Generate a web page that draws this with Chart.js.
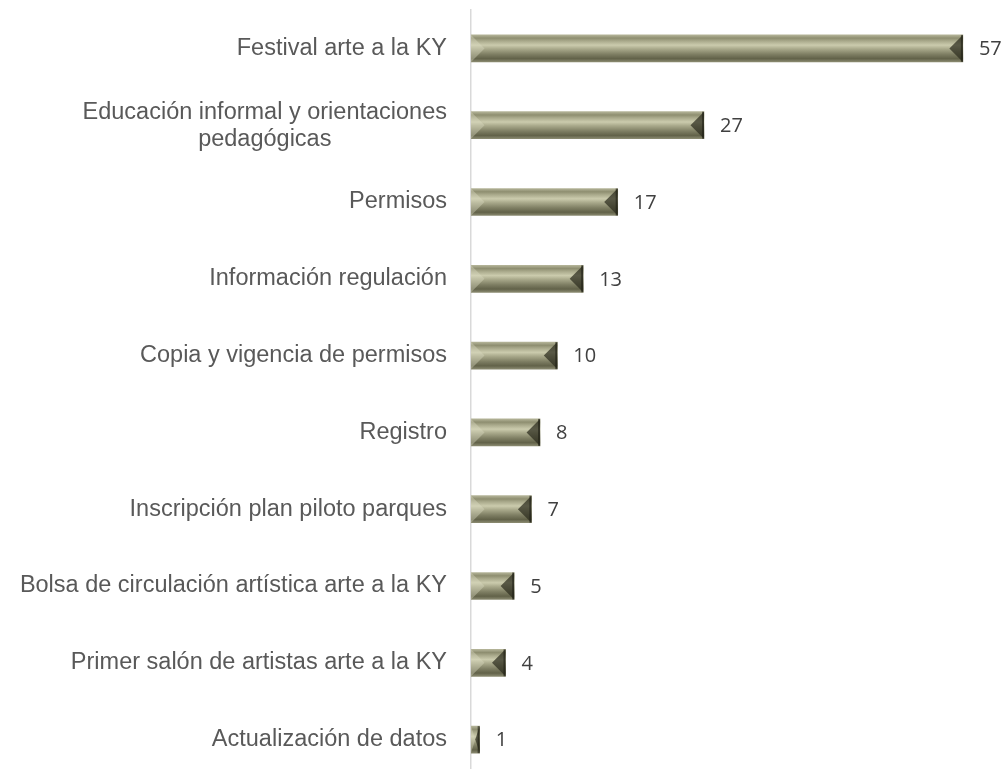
<!DOCTYPE html>
<html>
<head>
<meta charset="utf-8">
<script src="https://cdn.jsdelivr.net/npm/chart.js@4.4.1/dist/chart.umd.min.js"></script>
<style>
  html, body { margin: 0; padding: 0; background: #fff; overflow: hidden; }
  #wrap { width: 1005px; height: 780px; }
</style>
</head>
<body>
<div id="wrap"><canvas id="chart" width="1005" height="780"></canvas></div>
<script>
    // categories and values, top to bottom
    var categories = [
        'Festival arte a la KY',
        ['Educación informal y orientaciones', 'pedagógicas'],
        'Permisos',
        'Información regulación',
        'Copia y vigencia de permisos',
        'Registro',
        'Inscripción plan piloto parques',
        'Bolsa de circulación artística arte a la KY',
        'Primer salón de artistas arte a la KY',
        'Actualización de datos'
    ];
    var values = [57, 27, 17, 13, 10, 8, 7, 5, 4, 1];

    var barH = 27;

    // vertical bevel gradient for each bar
    function barFill(ctx) {
        var chart = ctx.chart;
        var yScale = chart.scales.y;
        if (!yScale || ctx.dataIndex === undefined) return '#8c8c6e';
        var cy = yScale.getPixelForValue(ctx.dataIndex);
        if (!isFinite(cy)) return '#8c8c6e';
        var top = cy - barH / 2, bot = cy + barH / 2;
        var g = chart.ctx.createLinearGradient(0, top, 0, bot);
        g.addColorStop(0, '#b4b498');
        g.addColorStop(0.12, '#8e8e70');
        g.addColorStop(0.22, '#a8a88a');
        g.addColorStop(0.38, '#cbcbad');
        g.addColorStop(0.52, '#a9a98b');
        g.addColorStop(0.72, '#7e7e63');
        g.addColorStop(0.88, '#626249');
        g.addColorStop(1, '#8a8a70');
        return g;
    }

    // end bevels of each bar
    var bevelPlugin = {
        id: 'bevel',
        afterDatasetsDraw: function(chart) {
            var c = chart.ctx;
            chart.getDatasetMeta(0).data.forEach(function(bar) {
                var x0 = bar.base, x1 = bar.x;
                var t = bar.y - bar.height / 2, b = bar.y + bar.height / 2;
                var w = x1 - x0;
                var s = Math.min(bar.height / 2, w / 2);
                c.save();
                // left light bevel
                c.fillStyle = 'rgba(220,220,195,0.4)';
                c.beginPath();
                c.moveTo(x0, t); c.lineTo(x0 + s, bar.y); c.lineTo(x0, b); c.closePath();
                c.fill();
                // right dark bevel
                c.fillStyle = 'rgba(45,45,30,0.72)';
                c.beginPath();
                c.moveTo(x1, t); c.lineTo(x1 - s, bar.y); c.lineTo(x1, b); c.closePath();
                c.fill();
                c.fillStyle = 'rgba(30,30,20,0.6)';
                c.fillRect(x1 - 2, t, 2, bar.height);
                c.restore();
            });
        }
    };

    // category labels (multi-line centred) and value labels
    var labelPlugin = {
        id: 'labels',
        afterDraw: function(chart) {
            var c = chart.ctx;
            var yScale = chart.scales.y;
            c.save();
            c.font = '23.5px "Liberation Sans", Arial, sans-serif';
            c.fillStyle = '#595959';
            c.textBaseline = 'middle';
            categories.forEach(function(lab, i) {
                var cy = yScale.getPixelForValue(i);
                var right = chart.chartArea.left - 24;
                if (Array.isArray(lab)) {
                    var widths = lab.map(function(l) { return c.measureText(l).width; });
                    var maxW = Math.max.apply(null, widths);
                    var mid = right - maxW / 2;
                    var lh = 27;
                    c.textAlign = 'center';
                    lab.forEach(function(l, k) {
                        c.fillText(l, mid, cy + (k - (lab.length - 1) / 2) * lh + 1);
                    });
                } else {
                    c.textAlign = 'right';
                    c.fillText(lab, right, cy);
                }
            });
            c.font = '20px "Open Sans", sans-serif';
            c.fillStyle = '#404040';
            c.textAlign = 'left';
            chart.getDatasetMeta(0).data.forEach(function(bar, i) {
                c.fillText(values[i], bar.x + 16, bar.y + 1);
            });
            c.restore();
        }
    };

    var chart = new Chart(document.getElementById('chart'), {
        type: 'bar',
        data: {
            labels: categories,
            datasets: [{
                data: values,
                backgroundColor: barFill,
                borderWidth: 0,
                barThickness: barH
            }]
        },
        options: {
            indexAxis: 'y',
            responsive: false,
            animation: false,
            layout: { padding: { top: 10, bottom: 2, left: 0, right: 7.6 } },
            plugins: { legend: { display: false }, tooltip: { enabled: false } },
            scales: {
                x: { display: false, min: 0, max: 61 },
                y: {
                    afterFit: function(scale) { scale.width = 471; },
                    ticks: { display: false },
                    grid: { display: false },
                    border: { display: true, color: '#d9d9d9', width: 1.5 }
                }
            }
        },
        plugins: [bevelPlugin, labelPlugin]
    });
    chart.update();
</script>
</body>
</html>
